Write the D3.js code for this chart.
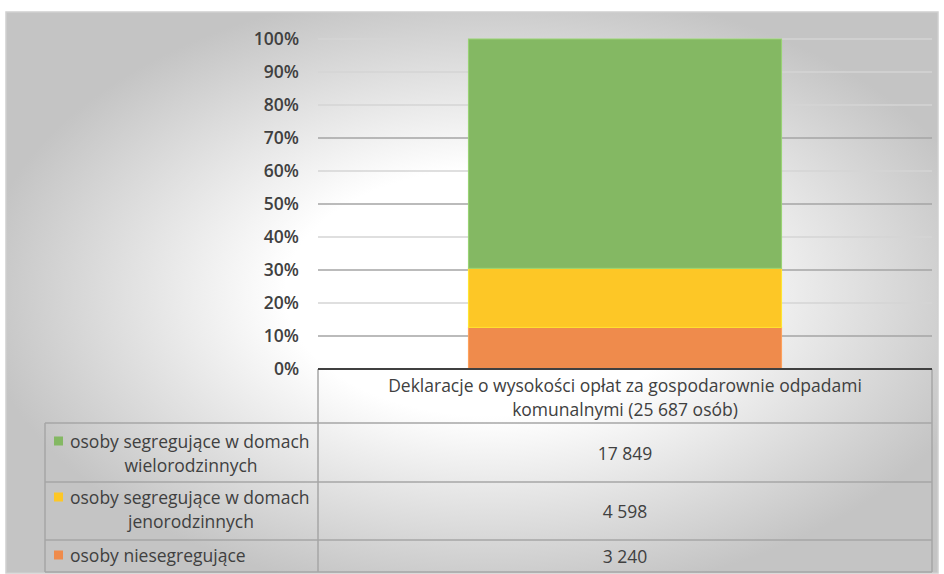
<!DOCTYPE html>
<html><head><meta charset="utf-8">
<script src="https://cdn.jsdelivr.net/npm/d3@7"></script>
<style>html,body{margin:0;padding:0;background:#fff;}svg{display:block;font-family:"Open Sans",sans-serif;}</style>
</head><body>
<svg id="c" width="944" height="574"></svg>
<script>
const categories = ["Deklaracje o wysokości opłat za gospodarownie odpadami komunalnymi (25 687 osób)"];
const categoryLines = ["Deklaracje o wysokości opłat za gospodarownie odpadami", "komunalnymi (25 687 osób)"];
const seriesKeys = ["niesegr", "jedno", "wielo"];
const seriesNames = [["osoby niesegregujące"], ["osoby segregujące w domach", "jenorodzinnych"], ["osoby segregujące w domach", "wielorodzinnych"]];
const seriesValues = [3240, 4598, 17849];
const valueLabels = ["3 240", "4 598", "17 849"];
const seriesColors = ["#ef8b4c", "#fdc726", "#84b863"];
const tickValues = [0, 0.1, 0.2, 0.3, 0.4, 0.5, 0.6, 0.7, 0.8, 0.9, 1.0];
const tickLabels = ["0%", "10%", "20%", "30%", "40%", "50%", "60%", "70%", "80%", "90%", "100%"];

const FONT = "'Open Sans', sans-serif";
const svg = d3.select("#c");
const defs = svg.append("defs");
const rg = defs.append("radialGradient").attr("id", "bg").attr("cx", "0.52").attr("cy", "0.5").attr("r", "0.55");
rg.append("stop").attr("offset", "0").attr("stop-color", "#ffffff");
rg.append("stop").attr("offset", "0.4").attr("stop-color", "#ffffff");
rg.append("stop").attr("offset", "1").attr("stop-color", "#c4c4c4");

svg.append("rect").attr("x", 6).attr("y", 12).attr("width", 932).attr("height", 561)
  .attr("fill", "url(#bg)").attr("stroke", "#cfcfcf").attr("stroke-width", 1.5);

const plotL = 318, plotR = 932, plotT = 39, plotB = 369;
const x = d3.scaleBand().domain(categories).range([plotL, plotR]).paddingInner(0.49).paddingOuter(0.245);
const y = d3.scaleLinear().domain([0, 1]).range([plotB, plotT]);

// gridlines
svg.append("g").selectAll("line").data(tickValues.slice(1)).join("line")
  .attr("x1", plotL).attr("x2", plotR).attr("y1", d => y(d)).attr("y2", d => y(d))
  .attr("stroke", (d, i) => (i % 2 === 0 && i < 7) ? "#a4a4a4" : "#d4d4d4").attr("stroke-width", 1.5);

// stacked bar
const row = {cat: categories[0]};
seriesKeys.forEach((k, i) => row[k] = seriesValues[i]);
const stack = d3.stack().keys(seriesKeys).offset(d3.stackOffsetExpand);
const layers = stack([row]);
svg.append("g").selectAll("rect").data(layers).join("rect")
  .attr("x", x(categories[0])).attr("width", x.bandwidth())
  .attr("y", d => y(d[0][1])).attr("height", d => y(d[0][0]) - y(d[0][1]))
  .attr("fill", (d, i) => seriesColors[i])
  .attr("stroke", (d, i) => d3.color(seriesColors[i]).brighter(0.4)).attr("stroke-width", 1);

// y axis labels
const yAxis = d3.axisLeft(y).tickValues(tickValues).tickFormat((d, i) => tickLabels[i]).tickSize(0).tickPadding(0);
const ya = svg.append("g").attr("transform", "translate(299,0)").call(yAxis);
ya.select(".domain").remove();
ya.selectAll("text").attr("font-family", FONT).attr("font-size", 17.5).attr("font-weight", 600).attr("fill", "#404040");

// data table
const tblL = 45, colL = 318, colR = 932;
const tcol = "#a6a6a6";
const g = svg.append("g");
[423, 482, 540, 572].forEach(yy => g.append("line").attr("x1", tblL).attr("x2", colR).attr("y1", yy).attr("y2", yy).attr("stroke", tcol).attr("stroke-width", 1.5));
g.append("line").attr("x1", tblL).attr("x2", tblL).attr("y1", 423).attr("y2", 572).attr("stroke", tcol).attr("stroke-width", 1.5);
g.append("line").attr("x1", colL).attr("x2", colL).attr("y1", 369).attr("y2", 572).attr("stroke", tcol).attr("stroke-width", 1.5);
g.append("line").attr("x1", colR).attr("x2", colR).attr("y1", 369).attr("y2", 572).attr("stroke", tcol).attr("stroke-width", 1.5);
svg.append("line").attr("x1", plotL).attr("x2", plotR).attr("y1", plotB).attr("y2", plotB).attr("stroke", "#404040").attr("stroke-width", 2.2);

function txt(s, xx, yy, anchor) {
  return svg.append("text").attr("x", xx).attr("y", yy).attr("text-anchor", anchor).attr("dominant-baseline", "central")
    .attr("font-family", FONT).attr("font-size", 17.5).attr("fill", "#404040").text(s);
}
const cx = x(categories[0]) + x.bandwidth() / 2;
txt(categoryLines[0], cx, 385, "middle");
txt(categoryLines[1], cx, 409, "middle");

const order = [2, 1, 0];
const valY = [453, 511, 556];
const lineY = [[441, 465], [497, 521], [555]];
order.forEach((si, r) => {
  txt(valueLabels[si], cx, valY[r], "middle");
  const lines = seriesNames[si];
  svg.append("rect").attr("x", 54).attr("y", lineY[r][0] - 4.5).attr("width", 9).attr("height", 9).attr("fill", seriesColors[si]);
  txt(lines[0], 70, lineY[r][0], "start");
  if (lines[1]) txt(lines[1], 191, lineY[r][1], "middle");
});
</script>
</body></html>
